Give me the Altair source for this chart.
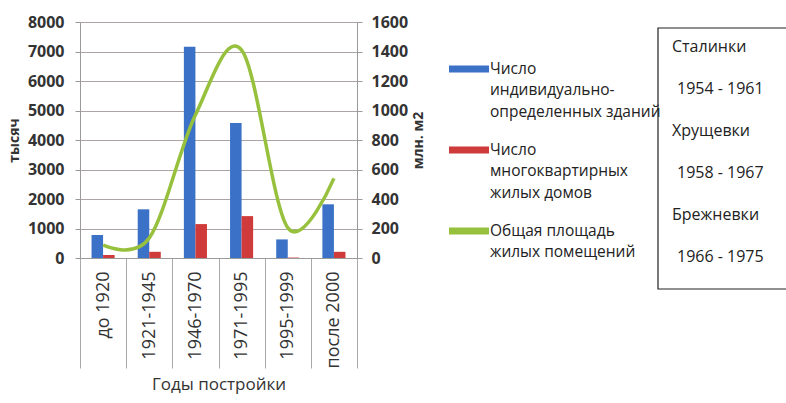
import altair as alt
import pandas as pd

# ---- data ----
categories = ["до 1920", "1921-1945", "1946-1970", "1971-1995", "1995-1999", "после 2000"]
individual = [780, 1650, 7160, 4580, 630, 1820]      # тысяч
apartment = [100, 210, 1150, 1420, 15, 210]          # тысяч
area = [88, 135, 970, 1410, 205, 540]                # млн. м2

series_names = [
    "Число|индивидуально-|определенных зданий",
    "Число|многоквартирных|жилых домов",
    "Общая площадь|жилых помещений",
]
series_colors = ["#3b71c6", "#cf3b3a", "#97c13d"]

left_ticks = [0, 1000, 2000, 3000, 4000, 5000, 6000, 7000, 8000]
right_ticks = [0, 200, 400, 600, 800, 1000, 1200, 1400, 1600]

box_names = ["Сталинки", "Хрущевки", "Брежневки"]
box_years = ["1954 - 1961", "1958 - 1967", "1966 - 1975"]

FONT = "Open Sans"
TXT = "#333333"

bars_df = pd.DataFrame({
    "cat": categories * 2,
    "series": [series_names[0]] * 6 + [series_names[1]] * 6,
    "value": individual + apartment,
})
line_df = pd.DataFrame({"cat": categories, "series": [series_names[2]] * 6, "value": area})
names_df = pd.DataFrame({"txt": box_names, "pos": [0, 2, 4]})
years_df = pd.DataFrame({"txt": box_years, "pos": [1, 3, 5]})
box_df = pd.DataFrame({"k": [1]})

color_scale = alt.Scale(domain=series_names, range=series_colors)
legend = alt.Legend(
    orient="none", legendX=369, legendY=27, padding=0,
    symbolType="M-1,-0.18H1V0.18H-1Z", symbolSize=1600, symbolStrokeWidth=0,
    symbolOpacity=1,
    labelFont=FONT, labelFontSize=15.5, labelColor="#222222", labelLimit=400,
    labelOffset=1, labelBaseline="middle", labelExpr="split(datum.label, '|')",
    rowPadding=9,
)

x_enc = alt.X(
    "cat:N", sort=categories, title="Годы постройки",
    scale=alt.Scale(paddingInner=0, paddingOuter=0),
    axis=alt.Axis(
        labelAngle=270, labelAlign="right", labelBaseline="middle",
        labelFont=FONT, labelFontSize=18, labelColor=TXT, labelPadding=-97,
        tickSize=110, tickBand="extent", tickColor="#a9a9a9",
        domainColor="#9a9a9a", grid=False,
        titleFont=FONT, titleFontSize=17, titleFontWeight="normal",
        titleColor=TXT, titlePadding=8,
    ),
)

bars = alt.Chart(bars_df).mark_bar().encode(
    x=x_enc,
    xOffset=alt.XOffset("series:N", sort=series_names[:2],
                        scale=alt.Scale(domain=series_names[:2], paddingInner=0, paddingOuter=1)),
    y=alt.Y("value:Q", title="тысяч", scale=alt.Scale(domain=[0, 8000]),
            axis=alt.Axis(values=left_ticks, format="d", grid=True, gridColor="#aca3a3",
                          domainColor="#9a9a9a", tickColor="#9a9a9a", tickSize=5,
                          labelFont=FONT, labelFontSize=16, labelFontWeight="bold",
                          labelColor=TXT, labelPadding=11,
                          titleFont=FONT, titleFontSize=14, titleFontWeight="bold",
                          titleColor=TXT, titlePadding=6)),
    color=alt.Color("series:N", scale=color_scale, legend=legend, title=None),
)

line = alt.Chart(line_df).mark_line(interpolate="cardinal", strokeWidth=3.5).encode(
    x=alt.X("cat:N", sort=categories),
    y=alt.Y("value:Q", title="млн. м2", scale=alt.Scale(domain=[0, 1600]),
            axis=alt.Axis(orient="right", values=right_ticks, format="d", grid=False,
                          domainColor="#9a9a9a", tickColor="#9a9a9a", tickSize=5,
                          labelFont=FONT, labelFontSize=16, labelFontWeight="bold",
                          labelColor=TXT, labelPadding=9,
                          titleAngle=270,
                          titleFont=FONT, titleFontSize=14, titleFontWeight="bold",
                          titleColor=TXT, titlePadding=18)),
    color=alt.Color("series:N", scale=color_scale, legend=legend, title=None),
)

box = alt.Chart(box_df).mark_rect(fillOpacity=0, stroke="#222222", strokeWidth=1.2).encode(
    x=alt.value(578), x2=alt.value(712), y=alt.value(6), y2=alt.value(267)
)

text_y = alt.Y("pos:O", axis=None,
               scale=alt.Scale(type="point", domain=[0, 1, 2, 3, 4, 5], range=[25, 235], padding=0))

names = alt.Chart(names_df).mark_text(align="left", baseline="middle", font=FONT,
                                      fontSize=16, color="#222222").encode(
    x=alt.value(592), y=text_y, text="txt:N")
years = alt.Chart(years_df).mark_text(align="left", baseline="middle", font=FONT,
                                      fontSize=16, color="#222222").encode(
    x=alt.value(597), y=text_y, text="txt:N")

chart = alt.layer(bars, line, box, names, years).resolve_scale(y="independent").properties(
    width=277, height=236,
    autosize=alt.AutoSizeParams(type="none"),
    padding={"left": 80, "top": 22, "right": 429, "bottom": 145},
).configure(
    font=FONT, style={"guide-label": {"lineHeight": 21.3}}
).configure_view(strokeWidth=0)

chart.save("out.html", embed_options={"renderer": "svg", "actions": False})
